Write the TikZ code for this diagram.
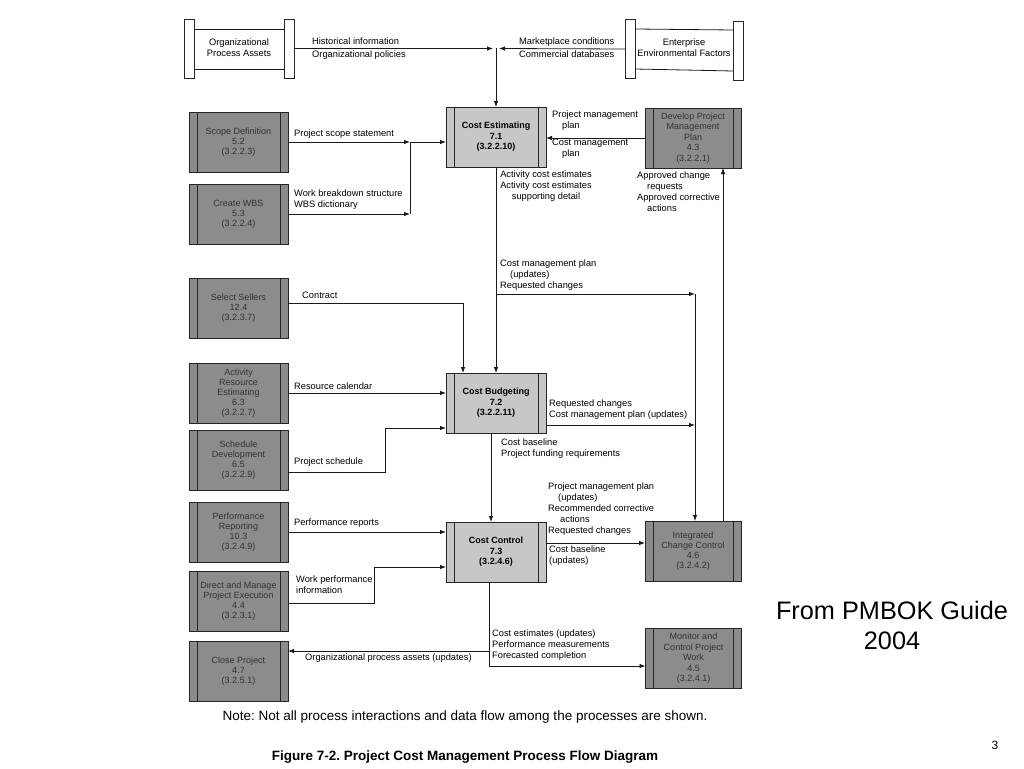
\documentclass[tikz,border=0pt]{standalone}
\usepackage{fontspec}
\setmainfont{Liberation Sans}
\usepackage{tikz}
\usetikzlibrary{arrows.meta,positioning}
\frenchspacing

\newcommand{\flowfont}{\fontsize{9.3}{11}\selectfont}
\newcommand{\boxfont}{\fontsize{9}{10}\selectfont}

\begin{document}
\begin{tikzpicture}[
    x=1pt, y=-1pt,
    proc/.style={rectangle, draw=black!85, line width=0.7pt, outer sep=0pt, minimum width=99pt, minimum height=60pt,
        inner sep=1pt, align=center, font=\boxfont,
        path picture={\draw[black!85, line width=0.5pt]
            ([xshift=8pt]path picture bounding box.south west) -- ([xshift=8pt]path picture bounding box.north west)
            ([xshift=-8pt]path picture bounding box.south east) -- ([xshift=-8pt]path picture bounding box.north east);}},
    extbox/.style={proc, fill=black!45, text=black!80},
    rightbox/.style={extbox, minimum width=96pt},
    costbox/.style={proc, fill=black!22, minimum width=100pt, font=\fontsize{9}{10.5}\selectfont\bfseries},
    storebar/.style={rectangle, draw=black!85, line width=0.7pt, outer sep=0pt, fill=white, minimum width=10pt, minimum height=59pt, inner sep=0pt},
    storetext/.style={align=center, font=\flowfont, inner sep=0pt},
    lbl/.style={font=\flowfont, anchor=north west, inner sep=0pt, align=left},
    arrow/.style={-{Latex[length=6pt,width=4.5pt]}, line width=0.8pt, black!90},
    line/.style={line width=0.8pt, black!90}
]
\useasboundingbox (0,0) rectangle (1024,768);

% Data stores
\node[storebar] (opaL) at (189.5,48.5) {};
\node[storebar] (opaR) at (289.5,48.5) {};
\node[storetext] (opa) at (239,48) {Organizational\\Process Assets};
\draw[line] ([yshift=19.5pt]opaL.east) -- ([yshift=19.5pt]opaR.west);
\draw[line] ([yshift=-20.5pt]opaL.east) -- ([yshift=-20.5pt]opaR.west);

\node[storebar] (eefL) at (630,49) {};
\node[storebar] (eefR) at (738,50.5) {};
\node[storetext] (eef) at (684,48) {Enterprise\\Environmental Factors};
\draw[line] ([yshift=20pt]eefL.east) -- ([yshift=20.5pt]eefR.west);
\draw[line] ([yshift=-20pt]eefL.east) -- ([yshift=-20.5pt]eefR.west);

% Cost management processes
\node[costbox] (ce) at (496,137) {Cost Estimating\\7.1\\(3.2.2.10)};
\node[costbox] (cb) at (496,403) {Cost Budgeting\\7.2\\(3.2.2.11)};
\node[costbox] (cc) at (496,552) {Cost Control\\7.3\\(3.2.4.6)};

% Left column
\node[extbox] (scope) at (238.5,142) {Scope Definition\\5.2\\(3.2.2.3)};
\node[extbox, below=12pt of scope] (wbs) {Create WBS\\5.3\\(3.2.2.4)};
\node[extbox, below=34pt of wbs] (sellers) {Select Sellers\\12.4\\(3.2.3.7)};
\node[extbox, below=25pt of sellers] (are) {Activity\\Resource\\Estimating\\6.3\\(3.2.2.7)};
\node[extbox, below=7pt of are] (sched) {Schedule\\Development\\6.5\\(3.2.2.9)};
\node[extbox, below=12pt of sched] (perf) {Performance\\Reporting\\10.3\\(3.2.4.9)};
\node[extbox, below=9pt of perf] (dmpe) {Direct and Manage\\Project Execution\\4.4\\(3.2.3.1)};
\node[extbox, below=10pt of dmpe] (close) {Close Project\\4.7\\(3.2.5.1)};

% Right column
\node[rightbox, font=\fontsize{9}{10.5}\selectfont] (dpmp) at (693,138) {Develop Project\\Management\\Plan\\4.3\\(3.2.2.1)};
\node[rightbox] (icc) at (693,551) {Integrated\\Change Control\\4.6\\(3.2.4.2)};
\node[rightbox, font=\fontsize{9}{10.5}\selectfont] (mcpw) at (693.5,658.5) {Monitor and\\Control Project\\Work\\4.5\\(3.2.4.1)};

% Junctions
\coordinate (top) at (ce.north |- opaR);
\coordinate (jL) at ([xshift=-3pt]top);
\coordinate (jR) at ([xshift=3pt]top);
\coordinate (j1) at (410,142);
\coordinate (j3) at (496,294);
\coordinate (j4) at (695,294);
\coordinate (j5) at (489,651);
\coordinate (j6) at (489,666);

% Arrows
\draw[arrow] (opaR.east) -- (jL);
\draw[arrow] (eefL.west) -- (jR);
\draw[arrow] (top) -- (ce.north);

\draw[arrow] (scope) -- (j1);
\draw[arrow] (wbs) -- (wbs -| j1);
\draw[line] (j1) -- (wbs -| j1);
\draw[arrow] (j1) -- (j1 -| ce.west);

\draw[arrow] (dpmp.west) -- (dpmp.west -| ce.east);
\draw[arrow] (ce) -- (cb);
\draw[arrow] (j3) -- (j4);
\draw[arrow] (j4) -- (j4 |- icc.north);
\draw[arrow] ([yshift=-22pt]cb.east) -- ([yshift=-22pt]cb.east -| j4);

\draw[arrow] ([yshift=5pt]sellers.east) -| ([xshift=-33pt]cb.north);
\draw[arrow] (are) -- (are -| cb.west);
\draw[arrow] ([yshift=-12pt]sched.east) -- ++(97,0) |- ([yshift=-25pt]cb.west);

\draw[arrow] ([xshift=-5pt]cb.south) -- ([xshift=-5pt]cc.north);
\draw[arrow] (perf) -- (perf -| cc.west);
\draw[arrow] ([yshift=-2pt]dmpe.east) -- ++(86,0) |- ([yshift=-15pt]cc.west);
\draw[arrow] ([yshift=9pt]cc.east) -- ([yshift=9pt]cc.east -| icc.west);
\draw[arrow] ([xshift=30pt]icc.north) -- ([xshift=30pt]dpmp.south);

\draw[line] ([xshift=-7pt]cc.south) -- (j6);
\draw[arrow] (j5) -- (j5 -| close.east);
\draw[arrow] (j6) -- (j6 -| mcpw.west);

% Labels
\node[lbl] (lhist) at (312,38) {Historical information};
\node[lbl] (lpol) at (312,51) {Organizational policies};
\node[lbl] (lmkt) at (519,38) {Marketplace conditions};
\node[lbl] (ldb) at (519,51) {Commercial databases};
\node[lbl] (lpss) at (294,130) {Project scope statement};
\node[lbl] (lwbs) at (294,190) {Work breakdown structure\\WBS dictionary};
\node[lbl] (lpmp) at (552,111) {Project management\\\hspace*{10pt}plan};
\node[lbl] (lcmp) at (552,139) {Cost management\\\hspace*{10pt}plan};
\node[lbl, anchor=north, align=center] (lace) at (546,171) {Activity cost estimates\\Activity cost estimates\\supporting detail};
\node[lbl] (lacr) at (637,172) {Approved change\\\hspace*{10pt}requests\\Approved corrective\\\hspace*{10pt}actions};
\node[lbl] (lcmpu) at (500,260) {Cost management plan\\\hspace*{10pt}(updates)\\Requested changes};
\node[lbl] (lcon) at (302,292) {Contract};
\node[lbl] (lres) at (294,383) {Resource calendar};
\node[lbl] (lsch) at (294,458) {Project schedule};
\node[lbl] (lrcb) at (549,400) {Requested changes\\Cost management plan (updates)};
\node[lbl] (lbase) at (501,439) {Cost baseline\\Project funding requirements};
\node[lbl] (lperf) at (294,519) {Performance reports};
\node[lbl] (lwpi) at (296,576) {Work performance\\information};
\node[lbl] (lpmpu) at (548,483) {Project management plan\\\hspace*{10pt}(updates)\\Recommended corrective\\\hspace*{12pt}actions\\Requested changes};
\node[lbl] (lcbu) at (549,546) {Cost baseline\\(updates)};
\node[lbl] (lest) at (492,630) {Cost estimates (updates)\\Performance measurements\\Forecasted completion};
\node[lbl] (lopa) at (305,654) {Organizational process assets (updates)};

% Notes
\node[font=\fontsize{13.5}{15}\selectfont] (note) at (465,717) {Note: Not all process interactions and data flow among the processes are shown.};
\node[font=\fontsize{13.5}{15}\selectfont\bfseries] (caption) at (465,757) {Figure 7-2. Project Cost Management Process Flow Diagram};
\node[font=\fontsize{25.3}{30}\selectfont, align=center] (src) at (892,625) {From PMBOK Guide\\2004};
\node[font=\fontsize{12}{14}\selectfont] (page) at (995,745) {3};

\end{tikzpicture}
\end{document}
